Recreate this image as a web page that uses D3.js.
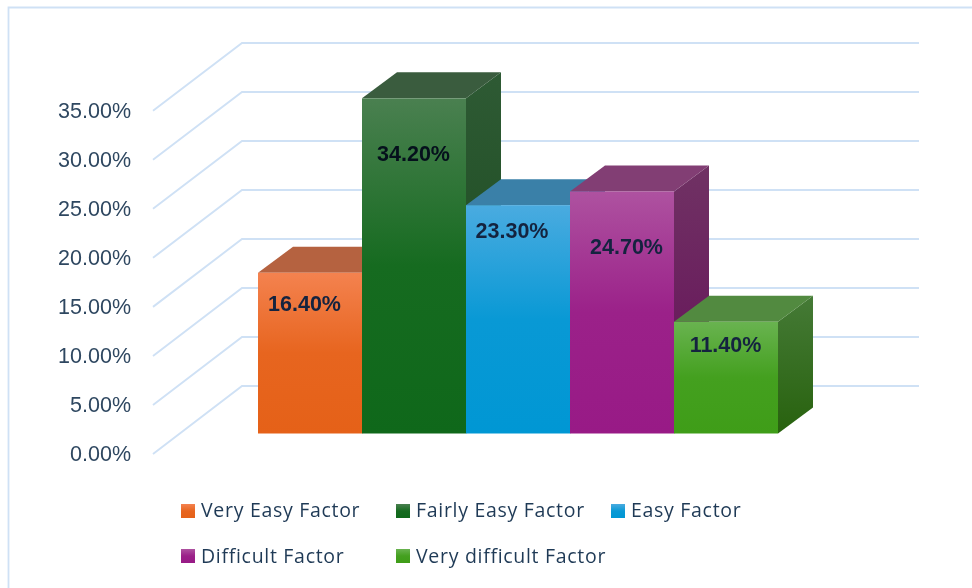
<!DOCTYPE html>
<html><head><meta charset="utf-8">
<script src="https://cdnjs.cloudflare.com/ajax/libs/d3/7.8.5/d3.min.js"></script>
<style>html,body{margin:0;padding:0;background:#fff}svg{display:block;filter:blur(0.35px)}</style></head>
<body><svg id="c" width="972" height="588"></svg>
<script>
const categories = ["Very Easy Factor","Fairly Easy Factor","Easy Factor","Difficult Factor","Very difficult Factor"];
const values = [16.4,34.2,23.3,24.7,11.4];
const yTicks = [0,5,10,15,20,25,30,35];
const gridTicks = [0,5,10,15,20,25,30,35];
const frontTop = ["#f4824f","#4a8050","#4aabe0","#ae52a0","#69b350"];
const frontBottom = ["#e56118","#0f681a","#0097d4","#981a86","#3f9d18"];
const topColors = ["#b56240","#3a5c3e","#3a80a8","#823e74","#528a40"];
const sideTop = ["#a5502c","#2e5a34","#2f6f98","#703264","#457a36"];
const sideBottom = ["#8f4412","#17481a","#006a9a","#650f58","#28620e"];
const labelColors = ["#14233f","#05101c","#14233f","#14233f","#14233f"];
const labelX = [304.5,413.5,512,626.5,725.5];
const labelY = [303,153.5,230,246,344];
const legendCol = [0,1,2,0,1];
const legendRow = [0,0,0,1,1];

const svg = d3.select("#c");
const dx = 35, dy = -26;
const yFront = d3.scaleLinear().domain([0,35]).range([454,110.7]);
const yBack = d3.scaleLinear().domain([0,35]).range([386,43]);
const yBar = d3.scaleLinear().domain([0,35]).range([433.5,90.5]);
const x = d3.scaleBand().domain(categories).range([258,778]).padding(0);

const defs = svg.append("defs");
function grad(id,c1,c2){
  const g = defs.append("linearGradient").attr("id",id).attr("x1",0).attr("x2",0).attr("y1",0).attr("y2",1);
  g.append("stop").attr("offset","0%").attr("stop-color",c1);
  g.append("stop").attr("offset","100%").attr("stop-color",c2);
}
categories.forEach((c,i)=>{
  const g = defs.append("linearGradient").attr("id","f"+i).attr("x1",0).attr("x2",0).attr("y1",0).attr("y2",1);
  g.append("stop").attr("offset","0%").attr("stop-color",frontTop[i]);
  g.append("stop").attr("offset","50%").attr("stop-color",d3.interpolateRgb(frontTop[i],frontBottom[i])(0.88));
  g.append("stop").attr("offset","100%").attr("stop-color",frontBottom[i]);
  grad("s"+i,sideTop[i],sideBottom[i]);
});

// chart frame
svg.append("path").attr("d","M8.5,588V7.5H972").attr("fill","none").attr("stroke","#cfe1f5").attr("stroke-width",1.8);

// gridlines
const line = d3.line();
svg.append("g").selectAll("path").data(gridTicks).join("path")
  .attr("d",t=>line([[153,yFront(t)],[242,yBack(t)],[919,yBack(t)]]))
  .attr("fill","none").attr("stroke","#cfe1f5").attr("stroke-width",1.9);

// axis labels
const axis = d3.axisLeft(yFront).tickValues(yTicks).tickSize(0).tickPadding(0).tickFormat(d=>d.toFixed(2)+"%");
const ag = svg.append("g").attr("transform","translate(131,-0.8)").call(axis);
ag.select(".domain").remove();
ag.selectAll("text").attr("font-family","Liberation Sans").attr("font-size",21.5).attr("fill","#2e4760").attr("dy","0.36em");

// bars
const bars = svg.append("g").selectAll("g").data(categories).join("g");
bars.append("path").attr("fill",(c,i)=>`url(#s${i})`).attr("d",(c,i)=>{
  const r=x(c)+x.bandwidth(), t=yBar(values[i]), b=yBar(0);
  return line([[r,t],[r+dx,t+dy],[r+dx,b+dy],[r,b]])+"Z";
});
bars.append("path").attr("fill",(c,i)=>topColors[i]).attr("d",(c,i)=>{
  const l=x(c), r=l+x.bandwidth(), t=yBar(values[i]);
  return line([[l,t],[l+dx,t+dy],[r+dx,t+dy],[r,t]])+"Z";
});
bars.append("rect").attr("fill",(c,i)=>`url(#f${i})`)
  .attr("x",c=>x(c)).attr("width",x.bandwidth())
  .attr("y",(c,i)=>yBar(values[i])).attr("height",(c,i)=>yBar(0)-yBar(values[i]));

// data labels
svg.append("g").selectAll("text").data(values).join("text")
  .attr("x",(v,i)=>labelX[i]).attr("y",(v,i)=>labelY[i]).attr("dy","0.36em")
  .attr("text-anchor","middle").attr("font-family","Liberation Sans").attr("font-weight","bold")
  .attr("font-size",21.5).attr("fill",(v,i)=>labelColors[i]).text(v=>v.toFixed(2)+"%");

// legend
const colX = d3.scaleOrdinal().domain([0,1,2]).range([181,396,611]);
const rowY = d3.scaleOrdinal().domain([0,1]).range([504,549]);
const rowText = d3.scaleOrdinal().domain([0,1]).range([13,14]);
const lg = svg.append("g").selectAll("g").data(categories).join("g")
  .attr("transform",(c,i)=>`translate(${colX(legendCol[i])},${rowY(legendRow[i])})`);
lg.append("rect").attr("width",14).attr("height",14).attr("fill",(c,i)=>`url(#f${i})`);
lg.append("text").attr("x",20).attr("y",(c,i)=>rowText(legendRow[i])).attr("font-family","Open Sans").attr("font-size",19.5)
  .attr("letter-spacing",0.7).attr("fill","#1f3a56").text(c=>c);
</script></body></html>
